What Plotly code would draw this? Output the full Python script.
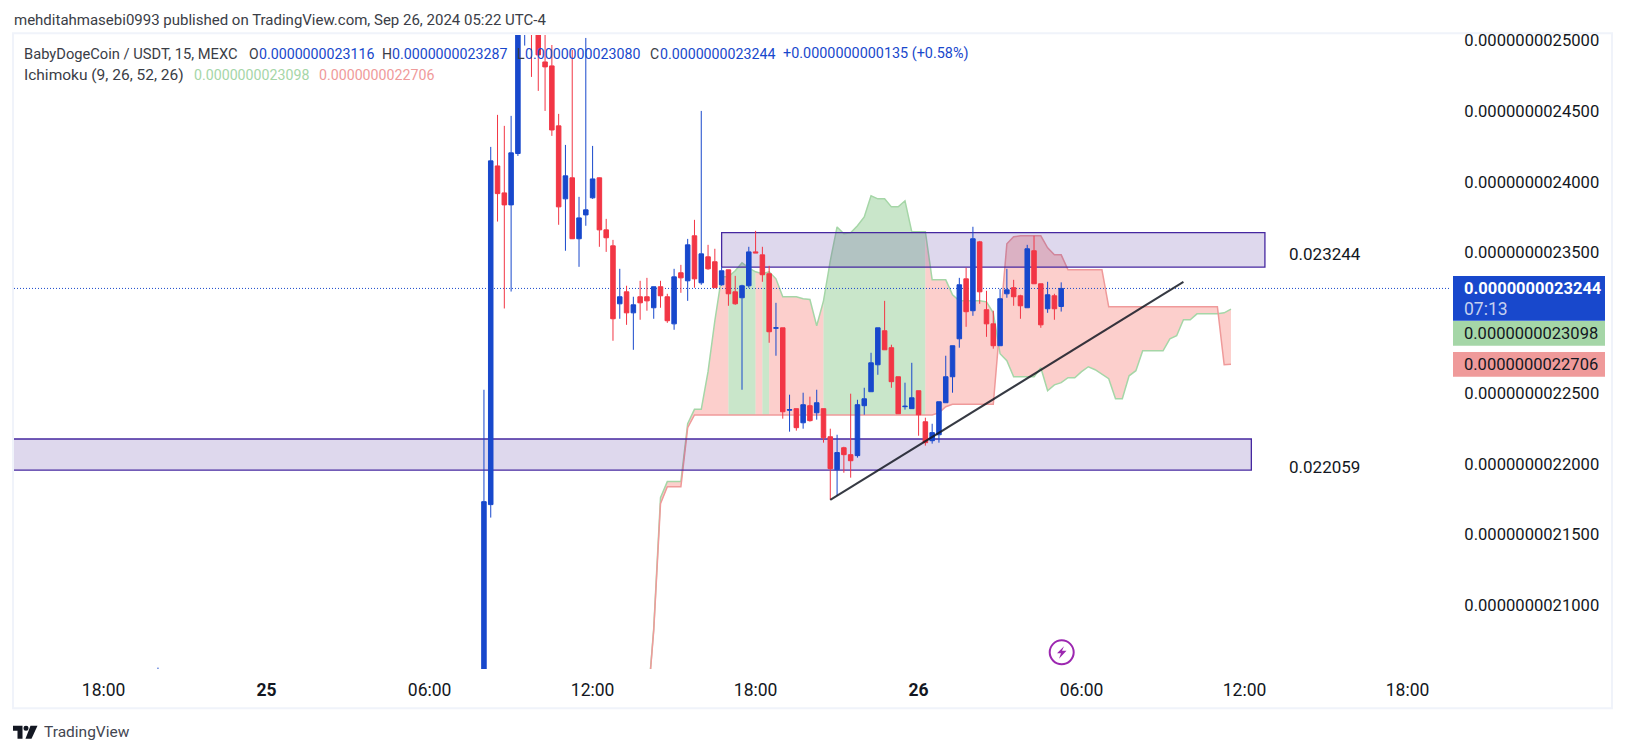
import pandas as pd
import plotly.graph_objects as go

# ---- data (prices in units of 1e-13 USDT) ----
bar_first_wick_time = "2024-09-24 20:00"
bar_start = "2024-09-25 08:00"
opens = [19899,21712,24112,23921,23836,24200,25104,25246,25139,24849,24821,24396,23879,24028,23596,23765,23886,24028,23659,23546,23135,23220,23071,23185,23185,23107,23256,23185,22993,23355,23298,23617,23284,23468,23433,23270,23376,23220,23178,23263,23503,23482,23348,22962,22965,22381,22392,22292,22413,22363,22392,22193,21960,22115,22066,22059,22413,22512,22703,22944,22824,22618,22406,22392,22519,22299,22165,22207,22434,22618,22887,23312,23086,23574,23093,22993,22838,23206,23249,23192,23107,23511,23277,23100,23192,23116]
highs = [22526,24247,24474,24396,24467,25246,25300,25281,25200,25104,24969,24481,24261,24934,23893,25019,24254,24030,23737,23588,23383,23263,23185,23298,23319,23256,23298,23206,23383,23411,23595,23730,24502,23553,23525,23397,23376,23333,23270,23539,23652,23539,23404,23142,22965,22491,22392,22505,22477,22526,22392,22250,22207,22122,22498,22455,22540,22788,22965,23156,22845,22618,22576,22717,22519,22328,22285,22441,22767,22838,23319,23390,23681,23581,23227,23086,23241,23383,23305,23199,23553,23617,23277,23291,23206,23287]
lows = [19800,21620,23718,23102,23222,24183,24965,24743,24644,24502,24325,23695,23511,23594,23397,23688,23879,23539,23503,22873,23029,22986,22809,23022,23086,23029,23107,23000,22951,23213,23156,23249,23270,23376,23249,23263,23121,23128,22526,23249,23496,23291,22859,22767,22321,22229,22236,22250,22300,22314,22151,21747,21775,21938,21903,22045,22349,22512,22632,22809,22540,22356,22385,22392,22200,22130,22144,22151,22434,22505,22824,22972,23050,23135,22901,22817,22838,23178,23121,23029,23107,23277,22965,23071,23022,23080]
closes = [21733,24148,23916,23836,24205,25139,25210,25104,24899,24814,24367,23822,24042,23596,23744,23801,24020,23659,23603,23029,23185,23071,23128,23142,23156,23256,23192,23015,23326,23319,23553,23312,23489,23383,23249,23369,23206,23135,23263,23503,23496,23341,22937,22965,22370,22385,22257,22420,22307,22434,22186,21967,22081,22066,22023,22420,22462,22717,22965,22809,22583,22356,22409,22469,22349,22151,22222,22441,22618,22838,23270,23079,23596,23220,22993,22838,23171,23234,23185,23121,23525,23277,22986,23199,23100,23244]
first_wick = dict(o=20300, h=20557, l=20200, c=20400)

cloud_start = "2024-09-25 14:00"
span_a = [20232,20833,21761,21875,21875,21875,22285,22387,22387,22654,23015,23326,23326,23369,23426,23390,23362,23348,23362,23312,23185,23185,23185,23171,23166,22979,23156,23440,23680,23631,23638,23688,23751,23900,23879,23879,23822,23822,23865,23645,23645,23645,23305,23305,23305,23199,23156,23156,23156,23156,23149,23071,22781,22732,22618,22618,22618,22618,22682,22519,22561,22576,22611,22611,22654,22689,22668,22639,22604,22462,22462,22625,22661,22802,22802,22802,22802,22887,22909,23022,23022,23064,23064,23064,23064,23071,23098]
span_b = [20232,20819,21719,21839,21839,21839,22257,22347,22347,22347,22347,22347,22347,22347,22347,22347,22347,22347,22347,22347,22347,22347,22347,22347,22347,22347,22347,22347,22347,22347,22347,22347,22347,22347,22347,22347,22347,22347,22347,22347,22347,22347,22347,22363,22406,22423,22423,22423,22423,22423,22423,22423,22994,23560,23610,23617,23617,23617,23617,23532,23482,23482,23376,23376,23376,23376,23376,23376,23114,23114,23114,23114,23114,23114,23114,23114,23114,23114,23114,23114,23114,23114,23114,23114,23114,22703,22706]
# cloud colour runs: (state, first bar offset, last bar offset) from cloud_start
cloud_runs = [("red",0,12),("green",12,16),("red",16,17),("green",17,18),("red",18,26),("green",26,41),("red",41,86)]

zone_upper = dict(t0="2024-09-25 16:45", t1="2024-09-26 12:45", lo=23395, hi=23640)
zone_lower = dict(t0="2024-09-24 14:35", t1="2024-09-26 12:15", lo=21957, hi=22177)
trend = dict(t0="2024-09-25 20:45", t1="2024-09-26 09:45", p0=21745, p1=23291)
last_price, span_a_last, span_b_last = 23244, 23098, 22706
price_ticks = [21000,21500,22000,22500,23500,24000,24500,25000]
time_ticks = ["2024-09-24 18:00","2024-09-25 00:00","2024-09-25 06:00","2024-09-25 12:00","2024-09-25 18:00","2024-09-26 00:00","2024-09-26 06:00","2024-09-26 12:00","2024-09-26 18:00"]
time_labels = ["18:00","<b>25</b>","06:00","12:00","18:00","<b>26</b>","06:00","12:00","18:00"]
x_range = ["2024-09-24 14:42","2024-09-26 19:36"]
y_range = [20547, 25040]

# ---- layout constants ----
W, H = 1625, 753
L, R, T, B = 14, 1451, 34.7, 669.2
BLUE, RED = "#1848CC", "#F23645"
GREEN_LINE, RED_LINE = "#A5D6A7", "#EF9A9A"
FONT = "Roboto"
TEXT = "#3a3d46"

def u(v):
    return v * 1e-13
def us(vs):
    return [u(v) for v in vs]
def px(x):
    return (x - L) / (R - L)
def py(y):
    return (B - y) / (B - T)

assert len(opens) == len(highs) == len(lows) == len(closes) == 86
assert len(span_a) == len(span_b) == 87

bar_times = [pd.Timestamp(bar_first_wick_time)] + list(pd.date_range(bar_start, periods=len(opens), freq="15min"))
cloud_times = list(pd.date_range(cloud_start, periods=len(span_a), freq="15min"))

fig = go.Figure()
fill_colour = {"green": "rgba(165,214,167,0.6)", "red": "rgba(249,160,153,0.5)"}
for state, a, b in cloud_runs:
    xs = cloud_times[a:b + 1] + cloud_times[a:b + 1][::-1]
    ys = us(span_a[a:b + 1]) + us(span_b[a:b + 1])[::-1]
    fig.add_trace(go.Scatter(x=xs, y=ys, mode="lines", fill="toself", fillcolor=fill_colour[state],
                             line=dict(width=0), zorder=0, hoverinfo="skip"))
fig.add_trace(go.Scatter(x=cloud_times, y=us(span_a), mode="lines", line=dict(color=GREEN_LINE, width=1.5), zorder=0))
fig.add_trace(go.Scatter(x=cloud_times, y=us(span_b), mode="lines", line=dict(color=RED_LINE, width=1.5), zorder=0))

for z in (zone_upper, zone_lower):
    fig.add_trace(go.Scatter(x=[z["t0"], z["t1"], z["t1"], z["t0"], z["t0"]],
                             y=us([z["lo"], z["lo"], z["hi"], z["hi"], z["lo"]]),
                             mode="lines", fill="toself", fillcolor="rgba(80,50,160,0.19)",
                             line=dict(color="#4527A0", width=1.3), zorder=1))

fig.add_trace(go.Scatter(x=x_range, y=us([last_price, last_price]), mode="lines",
                         line=dict(color=BLUE, width=1, dash="1px 2px"), zorder=1))

fig.add_trace(go.Candlestick(
    x=bar_times,
    open=us([first_wick["o"]] + opens), high=us([first_wick["h"]] + highs),
    low=us([first_wick["l"]] + lows), close=us([first_wick["c"]] + closes),
    increasing=dict(line=dict(color=BLUE, width=1), fillcolor=BLUE),
    decreasing=dict(line=dict(color=RED, width=1), fillcolor=RED),
    whiskerwidth=0, zorder=2))

fig.add_trace(go.Scatter(x=[trend["t0"], trend["t1"]], y=us([trend["p0"], trend["p1"]]), mode="lines",
                         line=dict(color="rgba(19,23,34,0.85)", width=2), zorder=3))

shapes = [
    dict(type="rect", xref="paper", yref="paper", x0=px(13), x1=px(1612), y0=py(33), y1=py(708.5),
         line=dict(color="#F0F3FA", width=2), layer="below"),
    dict(type="rect", xref="paper", yref="paper", x0=px(1453), x1=px(1605), y0=py(276), y1=py(320.7),
         fillcolor=BLUE, line=dict(width=0)),
    dict(type="rect", xref="paper", yref="paper", x0=px(1453), x1=px(1605), y0=py(321), y1=py(345.7),
         fillcolor=GREEN_LINE, line=dict(width=0)),
    dict(type="rect", xref="paper", yref="paper", x0=px(1453), x1=px(1605), y0=py(352), y1=py(376.7),
         fillcolor=RED_LINE, line=dict(width=0)),
    dict(type="circle", xref="paper", yref="paper", x0=px(1049.7), x1=px(1073.7), y0=py(640.5), y1=py(664.5),
         line=dict(color="#9C27B0", width=2)),
]
def poly(points, color):
    d = "M " + " L ".join(f"{px(a):.5f},{py(b):.5f}" for a, b in points) + " Z"
    return dict(type="path", xref="paper", yref="paper", path=d, fillcolor=color, line=dict(width=0))
shapes.append(poly([(1064,646.5),(1057,653.5),(1061,653.5),(1059,659),(1066.5,651),(1062,651)], "#9C27B0"))
shapes.append(poly([(13,726),(22.5,726),(22.5,739),(17.5,739),(17.5,731),(13,731)], "#131722"))
shapes.append(poly([(30.5,726),(37.5,726),(31.5,739),(25.5,739)], "#131722"))
shapes.append(dict(type="circle", xref="paper", yref="paper", x0=px(23.5), x1=px(28.5), y0=py(726), y1=py(731),
                   fillcolor="#131722", line=dict(width=0)))

def note(x, y, text, color=TEXT, size=14, anchor="left"):
    return dict(xref="paper", yref="paper", x=px(x), y=py(y), text=text, showarrow=False, xanchor=anchor,
                yanchor="middle", font=dict(family=FONT, size=size, color=color), align="left",
                xshift=0, yshift=0, borderpad=0)

def f13(v):
    return f"{v * 1e-13:.13f}"

annots = [
    note(13, 20, "mehditahmasebi0993 published on TradingView.com, Sep 26, 2024 05:22 UTC-4", size=15),
    note(23, 53.5, "BabyDogeCoin / USDT, 15, MEXC", size=14.7),
    note(247.5, 53.5, "O"), note(257.5, 53.5, f13(23116), BLUE, 14.2),
    note(381, 53.5, "H"), note(391.5, 53.5, f13(23287), BLUE, 14.2),
    note(515.5, 53.5, "L"), note(523.5, 53.5, f13(23080), BLUE, 14.2),
    note(648.5, 53.5, "C"), note(658.5, 53.5, f13(23244), BLUE, 14.2),
    note(782, 53.5, "+0.0000000000135 (+0.58%)", BLUE, 14.4),
    note(23, 75, "Ichimoku (9, 26, 52, 26)", size=15.5),
    note(193, 75, f13(span_a_last), GREEN_LINE, 14.2),
    note(318, 75, f13(span_b_last), RED_LINE, 14.2),
    note(1288, 254, "0.023244", "#131722", 17),
    note(1288, 467.5, "0.022059", "#131722", 17),
    note(1463, 288.5, f"<b>{f13(last_price)}</b>", "#FFFFFF", 16.5),
    note(1463, 309, "07:13", "#C5D0F0", 17.5),
    note(1463, 333.5, f13(span_a_last), "#131722", 16.5),
    note(1463, 364.5, f13(span_b_last), "#131722", 16.5),
    note(43, 732, "TradingView", "#434651", 15.5),
]

fig.update_layout(
    width=W, height=H, autosize=False,
    margin=dict(l=L, r=W - R, t=T, b=H - B),
    paper_bgcolor="white", plot_bgcolor="white",
    showlegend=False, hovermode=False, boxgap=0.05,
    shapes=shapes, annotations=annots,
    xaxis=dict(type="date", range=x_range, rangeslider=dict(visible=False), showgrid=False, zeroline=False,
               showline=False, tickmode="array", tickvals=time_ticks, ticktext=time_labels,
               ticks="outside", ticklen=5, tickcolor="rgba(0,0,0,0)",
               tickfont=dict(family=FONT, size=17.5, color="#131722")),
    yaxis=dict(side="right", range=us(y_range), showgrid=False, zeroline=False, showline=False,
               tickmode="array", tickvals=us(price_ticks), tickformat=".13f",
               ticks="outside", ticklen=9, tickcolor="rgba(0,0,0,0)",
               tickfont=dict(family=FONT, size=16.6, color="#131722")),
)

fig.write_html("out.html", config=dict(displayModeBar=False),
               post_script="document.body.style.margin='0';")
